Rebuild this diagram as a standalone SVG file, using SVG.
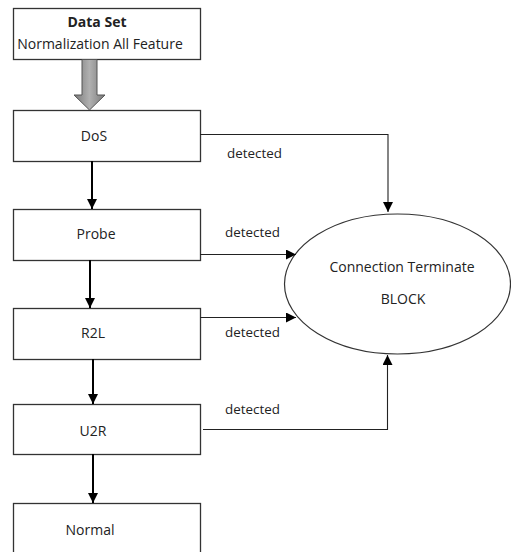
<svg xmlns="http://www.w3.org/2000/svg" width="511" height="552" viewBox="0 0 511 552">
<style>
.box{fill:#fff;stroke:#333;stroke-width:1.3}
.t{font-family:"Open Sans","Liberation Sans",sans-serif;font-size:14px;fill:#222;text-anchor:middle}
.lbl{font-family:"Open Sans","Liberation Sans",sans-serif;font-size:13.4px;fill:#222}
.thick{stroke:#000;stroke-width:2;fill:none}
.thin{stroke:#222;stroke-width:1.1;fill:none}
</style>
<defs>
<marker id="ah" viewBox="0 0 10 10" refX="10" refY="5" markerWidth="10" markerHeight="10" markerUnits="userSpaceOnUse" orient="auto">
<path d="M0,0 L10,5 L0,10 z" fill="#000"/>
</marker>
<linearGradient id="g" x1="0" y1="0" x2="1" y2="0">
<stop offset="0" stop-color="#7a7a7a"/>
<stop offset="0.5" stop-color="#b0b0b0"/>
<stop offset="1" stop-color="#7a7a7a"/>
</linearGradient>
</defs>
<g id="dataset">
<rect class="box" x="13.5" y="8.5" width="187" height="51"/>
<text class="t" x="97" y="27" style="font-weight:bold">Data Set</text>
<text class="t" x="100" y="49">Normalization All Feature</text>
</g>
<g id="bigarrow">
<path d="M82,59.5 L97,59.5 L97,95 L105,95 L89.5,110 L74,95 L82,95 Z" fill="url(#g)" stroke="#555" stroke-width="1"/>
</g>
<g id="dos">
<rect class="box" x="13.5" y="110.5" width="187" height="51"/>
<text class="t" x="94" y="141">DoS</text>
</g>
<g id="probe">
<rect class="box" x="13.5" y="209.5" width="187" height="51"/>
<text class="t" x="96" y="239">Probe</text>
</g>
<g id="r2l">
<rect class="box" x="13.5" y="308.5" width="187" height="51"/>
<text class="t" x="93" y="338">R2L</text>
</g>
<g id="u2r">
<rect class="box" x="13.5" y="404.5" width="187" height="50"/>
<text class="t" x="93" y="436">U2R</text>
</g>
<g id="normal">
<rect class="box" x="13.5" y="503.5" width="187" height="60"/>
<text class="t" x="90" y="535">Normal</text>
</g>
<g id="block">
<ellipse cx="397.5" cy="284" rx="113" ry="70" fill="#fff" stroke="#333" stroke-width="1.2"/>
<text class="t" x="402" y="272">Connection Terminate</text>
<text class="t" x="403" y="304">BLOCK</text>
</g>
<g id="connectors">
<line class="thick" x1="92" y1="161" x2="92" y2="209" marker-end="url(#ah)"/>
<line class="thick" x1="90" y1="260" x2="90" y2="308" marker-end="url(#ah)"/>
<line class="thick" x1="93" y1="359" x2="93" y2="404" marker-end="url(#ah)"/>
<line class="thick" x1="93" y1="454" x2="93" y2="503" marker-end="url(#ah)"/>
<polyline class="thin" points="200,134.5 388,134.5 388,212" marker-end="url(#ah)"/>
<line class="thin" x1="200" y1="254.5" x2="296" y2="254.5" marker-end="url(#ah)"/>
<line class="thin" x1="200" y1="317.5" x2="296" y2="317.5" marker-end="url(#ah)"/>
<polyline class="thin" points="203,429.5 387.5,429.5 387.5,355" marker-end="url(#ah)"/>
<text class="lbl" x="227" y="158">detected</text>
<text class="lbl" x="225" y="237">detected</text>
<text class="lbl" x="225" y="337">detected</text>
<text class="lbl" x="225" y="414">detected</text>
</g>
</svg>
